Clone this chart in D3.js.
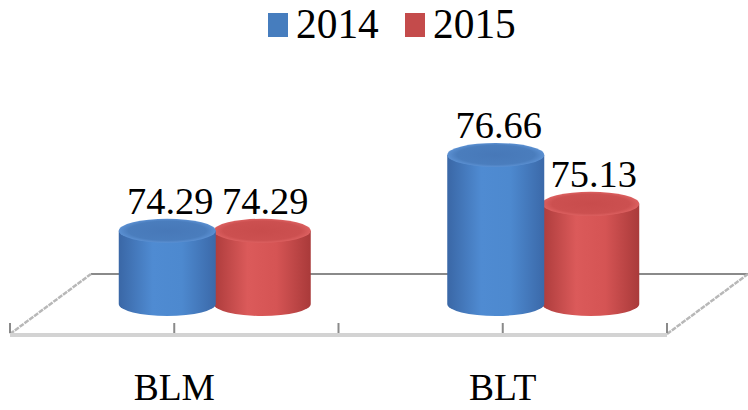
<!DOCTYPE html>
<html>
<head>
<meta charset="utf-8">
<script src="https://cdn.jsdelivr.net/npm/d3@7"></script>
<style>
  body { margin: 0; background: #fff; }
</style>
</head>
<body>
<script>
// Data
var categories = ["BLM", "BLT"];
var seriesNames = ["2014", "2015"];
var values2014 = [74.29, 76.66];
var values2015 = [74.29, 75.13];
var seriesColors = ["#4a84c8", "#cf4f4f"];

var width = 748, height = 410;
var fontFamily = "Times New Roman", baseFont = 30;

// floor of the 3D plot: front edge + depth offset
var front = {left: 10, right: 667, y: 334},
    depth = {dx: 81, dy: -60},
    baseY = front.y + depth.dy / 2,   // bars stand at half depth
    ry = 12;                          // ellipse radius of cylinder caps

var svg = d3.select("body").append("svg")
            .attr("width", width)
            .attr("height", height);

// Scales
var xScale = d3.scaleBand().domain(categories).range([front.left, front.right]),
    xInner = d3.scaleBand().domain(seriesNames).range([-95, 95]),
    yScale = d3.scaleLinear().domain([72, 77]).range([baseY, baseY - 160]),
    color = d3.scaleOrdinal().domain(seriesNames).range(seriesColors);

var dataset = categories.map((c, i) => {
  return {
    name: c,
    values: [
      {series: "2014", value: values2014[i]},
      {series: "2015", value: values2015[i]}
    ]
  };
});

var place = (x, y, s) => "translate(" + x + "," + y + ") scale(" + s + ")";

// Gradients for cylinder sides and caps
var defs = svg.append("defs");
var bodyStops = {
  "2014": ["#3a67a6", "#4f8bd2", "#4d89cf", "#3b69a9"],
  "2015": ["#ad3c3c", "#db5a5a", "#d55454", "#a93a3a"]
};
var capStops = {
  "2014": ["#4778b8", "#4a7dbd", "#5b90d2"],
  "2015": ["#c84c4c", "#cc5050", "#dc6060"]
};
seriesNames.forEach((s, i) => {
  var g = defs.append("linearGradient")
              .attr("id", "body" + i)
              .attr("x1", "0%").attr("x2", "100%");
  [0, 0.35, 0.65, 1].forEach((o, k) => {
    g.append("stop").attr("offset", o).attr("stop-color", bodyStops[s][k]);
  });
  var r = defs.append("radialGradient").attr("id", "cap" + i);
  [0, 0.8, 1].forEach((o, k) => {
    r.append("stop").attr("offset", o).attr("stop-color", capStops[s][k]);
  });
});

// Floor: back edge, side edges
var floor = svg.append("g").attr("class", "floor");
floor.append("line")
     .attr("x1", front.left + depth.dx).attr("x2", front.right + depth.dx)
     .attr("y1", front.y + depth.dy).attr("y2", front.y + depth.dy)
     .style("stroke", "#8a8a8a")
     .style("stroke-width", 2);
[front.left, front.right].forEach(x => {
  floor.append("line")
       .attr("x1", x).attr("y1", front.y)
       .attr("x2", x + depth.dx).attr("y2", front.y + depth.dy)
       .style("stroke", "#b8b8b8")
       .style("stroke-width", 2.5)
       .style("stroke-dasharray", "5,1");
});
floor.append("line")
     .attr("x1", front.left).attr("x2", front.right)
     .attr("y1", front.y + 1).attr("y2", front.y + 1)
     .style("stroke", "#d3d3d3")
     .style("stroke-width", 4);

// ticks on the front edge: category bounds and centres
var tickX = [front.left].concat(categories.map(c => xScale(c) + xScale.bandwidth() / 2),
                                categories.map(c => xScale(c) + xScale.bandwidth()));
floor.selectAll(".tick")
     .data(tickX)
     .enter()
     .append("line")
     .attr("class", "tick")
     .attr("x1", d => d).attr("x2", d => d)
     .attr("y1", front.y - 11).attr("y2", front.y - 1)
     .style("stroke", "#8a8a8a")
     .style("stroke-width", 2);

// Cylinders
var rx = xInner.bandwidth() / 2 + 1;
var cylPath = (cx, yTop) =>
  "M" + (cx - rx) + "," + yTop +
  "L" + (cx - rx) + "," + baseY +
  "A" + rx + "," + ry + " 0 0 0 " + (cx + rx) + "," + baseY +
  "L" + (cx + rx) + "," + yTop + "Z";

var category = svg.selectAll(".category")
                  .data(dataset)
                  .enter()
                  .append("g")
                  .attr("class", "category")
                  .attr("transform", d => "translate(" + (xScale(d.name) + xScale.bandwidth() / 2 + depth.dx / 2) + ",0)");

var bar = category.selectAll(".bar")
                  .data(d => d.values.slice().reverse())
                  .enter()
                  .append("g")
                  .attr("class", "bar");

bar.append("path")
   .attr("d", d => cylPath(xInner(d.series) + xInner.bandwidth() / 2, yScale(d.value)))
   .attr("fill", d => "url(#body" + seriesNames.indexOf(d.series) + ")");

bar.append("ellipse")
   .attr("cx", d => xInner(d.series) + xInner.bandwidth() / 2)
   .attr("cy", d => yScale(d.value))
   .attr("rx", rx)
   .attr("ry", ry)
   .attr("fill", d => "url(#cap" + seriesNames.indexOf(d.series) + ")");

// Data labels
bar.append("text")
   .attr("transform", d => place(xInner(d.series) + xInner.bandwidth() / 2 + 3, yScale(d.value) - ry - 5, 1.28))
   .attr("text-anchor", "middle")
   .attr("font-family", fontFamily)
   .attr("font-size", baseFont)
   .text(d => d.value.toFixed(2));

// Category labels
svg.selectAll(".cat-label")
   .data(categories)
   .enter()
   .append("text")
   .attr("class", "cat-label")
   .attr("transform", d => place(xScale(d) + xScale.bandwidth() / 2, 400, 1.25))
   .attr("text-anchor", "middle")
   .attr("font-family", fontFamily)
   .attr("font-size", baseFont)
   .text(d => d);

// Legend
var legend = svg.selectAll(".legend")
                .data(seriesNames)
                .enter()
                .append("g")
                .attr("class", "legend")
                .attr("transform", (d, i) => "translate(" + (268 + i * 137) + ",0)");

legend.append("rect")
      .attr("x", 0).attr("y", 13)
      .attr("width", 20).attr("height", 24)
      .attr("fill", d => d3.color(color(d)).darker(0.15));

legend.append("text")
      .attr("transform", place(28, 38, 1.38))
      .attr("font-family", fontFamily)
      .attr("font-size", baseFont)
      .text(d => d);
</script>
</body>
</html>
